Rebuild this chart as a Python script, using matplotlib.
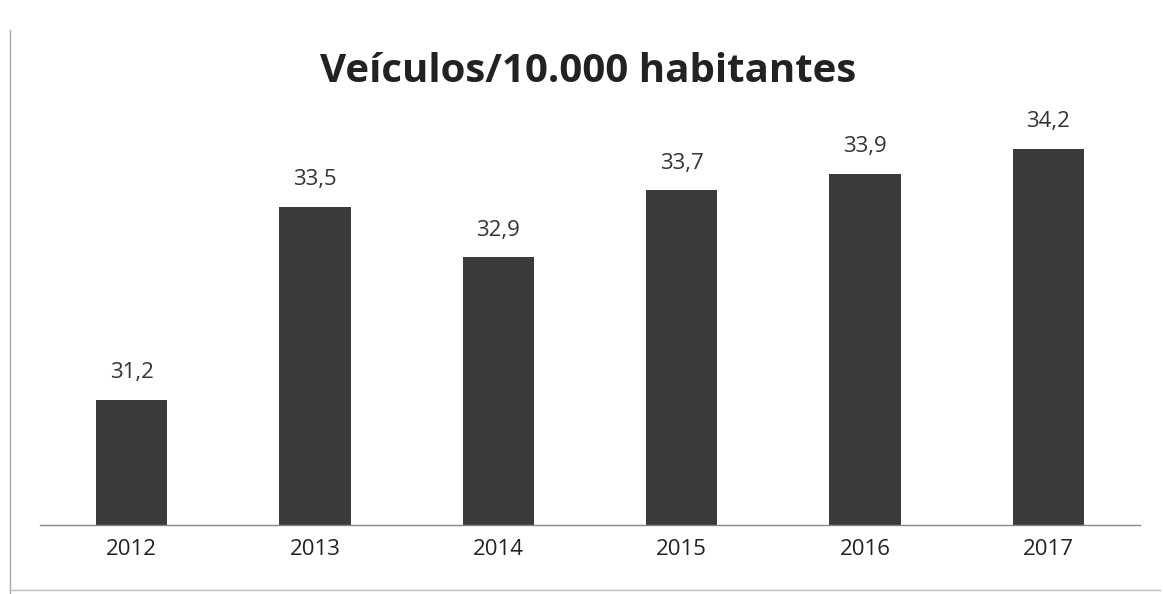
import matplotlib.pyplot as plt
from matplotlib.lines import Line2D

anos = ['2012', '2013', '2014', '2015', '2016', '2017']
valores = [31.2, 33.5, 32.9, 33.7, 33.9, 34.2]
rotulos = ['31,2', '33,5', '32,9', '33,7', '33,9', '34,2']

plt.rcParams['font.family'] = ['Open Sans', 'DejaVu Sans']

fig = plt.figure(figsize=(11.63, 5.94), dpi=100)
ax = fig.add_axes([40 / 1163, 69 / 594, 1100 / 1163, 425 / 594])

x = range(len(anos))
ax.bar(x, valores, width=0.39, color='#3b3b3e')
ax.set_ylim(29.7, 34.78)
ax.set_xlim(-0.5, 5.5)

for i, (v, r) in enumerate(zip(valores, rotulos)):
    ax.text(i, v + 0.2, r, ha='center', va='bottom', fontsize=16, color='#333333')

ax.set_xticks(list(x))
ax.set_xticklabels(anos, fontsize=16, color='#222222')
ax.tick_params(axis='x', length=0, pad=10)
ax.set_yticks([])
for s in ['top', 'right', 'left']:
    ax.spines[s].set_visible(False)
ax.spines['bottom'].set_color('#888888')
ax.spines['bottom'].set_linewidth(1)

fig.text(588 / 1163, 1 - 72 / 594, 'Veículos/10.000 habitantes', ha='center', va='center',
         fontsize=29, fontweight='bold', color='#222222')

# moldura do gráfico (borda esquerda e inferior)
fig.add_artist(Line2D([10 / 1163, 10 / 1163], [0, 1 - 30 / 594], color='#aaaaaa', lw=1))
fig.add_artist(Line2D([10 / 1163, 1160 / 1163], [4 / 594, 4 / 594], color='#bbbbbb', lw=1))

fig.savefig('out.png', dpi=100, facecolor='white')
